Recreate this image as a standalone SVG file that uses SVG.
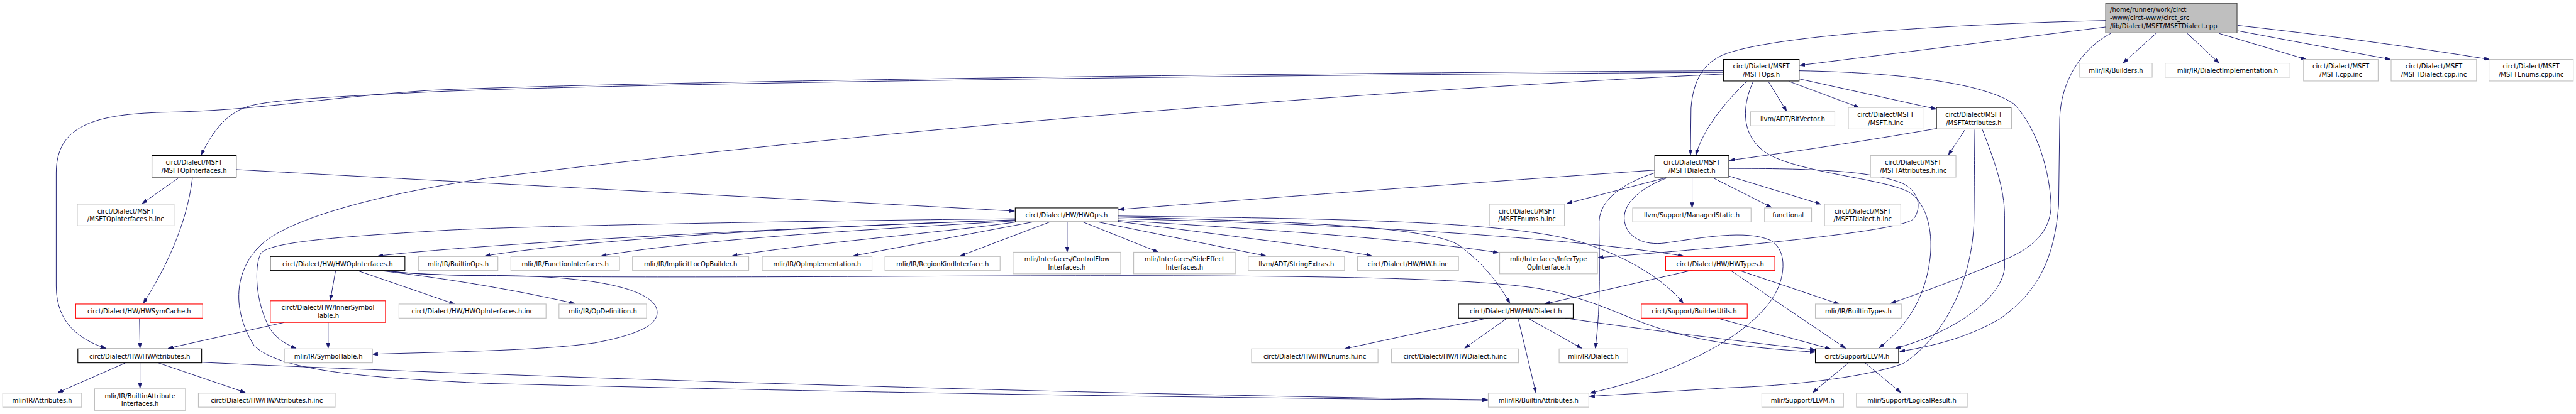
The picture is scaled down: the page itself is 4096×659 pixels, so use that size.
<svg xmlns="http://www.w3.org/2000/svg" width="4096" height="659" viewBox="0 0 4096 659">
<defs>
<marker id="ah" viewBox="0 0 10 7" refX="10" refY="3.5" markerWidth="10" markerHeight="7" markerUnits="userSpaceOnUse" orient="auto">
<path d="M0,0 L10,3.5 L0,7 z" fill="#191970" stroke="#191970" stroke-width="0.6"/>
</marker>
<style>
rect{fill:#ffffff;stroke-width:1.3}
.g{stroke:#bfbfbf}
.b{stroke:#000000}
.r{stroke:#ff0000}
.root{fill:#bfbfbf;stroke:#404040}
text{font-family:"DejaVu Sans Condensed","DejaVu Sans","Liberation Sans",sans-serif;font-size:13px;fill:#000000}
.c{text-anchor:middle}
#edges path{fill:none;stroke:#191970;stroke-width:1.1;marker-end:url(#ah)}
</style>
</defs>
<rect x="0" y="0" width="4096" height="659" style="fill:#ffffff;stroke:none"/>
<g transform="scale(0.8596)">
<g id="edges">
<path d="M3895,50 L3329,121"/>
<path d="M3895,38 C3600,45 3300,65 3200,97 C3150,112 3132,150 3128,200 L3127,287"/>
<path d="M3988,62 L3927,117"/>
<path d="M4046,62 L4105,117"/>
<path d="M4105,62 L4266,110"/>
<path d="M4139,57 L4422,110"/>
<path d="M4139,47 C4300,65 4450,85 4605,110"/>
<path d="M3906,61 C3850,90 3812,150 3810,220 L3808,380 C3800,480 3770,540 3700,590 C3640,625 3580,640 3514,651"/>
<path d="M3328,131 C3550,135 3680,160 3726,193 C3770,240 3792,320 3794,380 C3794,420 3770,455 3710,480 C3640,510 3560,540 3497,562"/>
<path d="M3271,151 L3305,206"/>
<path d="M3310,151 L3439,199"/>
<path d="M3328,146 L3582,202"/>
<path d="M3231,151 C3190,190 3150,240 3137,287"/>
<path d="M3243,151 C3225,190 3215,250 3270,285 C3330,320 3480,330 3530,355 C3570,380 3575,440 3570,480 C3560,560 3520,610 3476,644"/>
<path d="M3188,131 C2400,135 1200,150 800,167 C600,180 480,205 300,208 C180,212 104,230 104,320 L104,530 C104,600 150,630 196,645"/>
<path d="M3188,134 C2400,138 1200,153 800,170 C600,180 500,185 459,197 C420,210 395,240 372,287"/>
<path d="M3188,137 C2600,165 1700,230 900,330 C700,360 560,400 500,440 C440,480 420,560 470,640 C520,690 700,700 900,710 C1600,728 2300,737 2752,741"/>
<path d="M3582,238 C3400,270 3250,290 3199,297"/>
<path d="M3635,240 L3604,287"/>
<path d="M3653,240 C3652,300 3652,400 3651,420 C3645,520 3600,620 3521,673 C3450,700 3300,715 3200,718 L2940,734"/>
<path d="M3667,240 C3690,300 3708,350 3708,400 L3708,497 C3700,560 3600,620 3506,645"/>
<path d="M3061,315 C2700,340 2300,370 2069,388"/>
<path d="M3082,329 L2898,377"/>
<path d="M3061,320 C3000,340 2960,370 2958,410 C2958,480 2962,560 2951,645"/>
<path d="M3082,330 C3030,350 3000,380 3005,410 C3010,440 3040,455 3080,450 C3150,440 3230,425 3275,445 C3310,465 3300,520 3280,550 C3250,600 3150,680 2941,728"/>
<path d="M3130,329 L3130,385"/>
<path d="M3168,329 L3277,384"/>
<path d="M3198,326 L3368,378"/>
<path d="M3198,312 C3350,312 3460,315 3520,340 C3550,355 3555,385 3540,405 C3520,425 3300,450 2956,477"/>
<path d="M331,329 L263,377"/>
<path d="M356,329 C350,380 330,460 265,562"/>
<path d="M437,314 C900,340 1600,375 1877,391"/>
<path d="M1878,405 C1400,410 900,420 800,428 C600,440 495,450 482,470 C470,495 472,560 500,610 C515,630 530,638 548,645"/>
<path d="M1878,407 C1500,420 900,450 699,474"/>
<path d="M1878,408 C1600,415 1100,440 897,474"/>
<path d="M1878,409 C1700,420 1300,440 1112,474"/>
<path d="M1880,411 C1750,430 1500,450 1354,474"/>
<path d="M1911,411 L1578,474"/>
<path d="M1942,411 L1776,474"/>
<path d="M1974,411 L1974,467"/>
<path d="M2003,411 L2143,467"/>
<path d="M2031,411 L2342,474"/>
<path d="M2068,410 C2300,440 2480,462 2538,474"/>
<path d="M2068,408 C2400,428 2650,448 2772,468"/>
<path d="M2068,405 C2500,415 2900,440 3114,474"/>
<path d="M2068,402 C2400,410 2650,420 2700,455 C2740,485 2770,520 2793,562"/>
<path d="M2068,400 C2500,405 2800,410 2930,450 C3020,480 3080,520 3114,562"/>
<path d="M621,500 L611,556"/>
<path d="M658,500 L841,563"/>
<path d="M694,500 C760,508 900,525 1063,562"/>
<path d="M704,500 C760,508 820,510 900,510 C1100,510 1200,535 1214,570 C1225,600 1180,620 1100,635 C1000,650 800,652 689,656"/>
<path d="M710,500 C760,510 900,515 1600,512 C2300,508 2700,510 2850,535 C2950,555 3000,585 3060,605 C3150,635 3250,645 3358,652"/>
<path d="M3132,500 L2857,563"/>
<path d="M3215,500 L3402,563"/>
<path d="M3200,500 L3414,645"/>
<path d="M3176,589 L3386,646"/>
<path d="M2752,589 L2487,646"/>
<path d="M2788,589 L2709,645"/>
<path d="M2808,589 L2841,727"/>
<path d="M2826,589 L2926,645"/>
<path d="M2895,589 C3000,605 3200,630 3358,648"/>
<path d="M3419,672 L3353,727"/>
<path d="M3450,672 L3516,727"/>
<path d="M526,597 L311,645"/>
<path d="M607,597 L607,645"/>
<path d="M258,589 L259,645"/>
<path d="M232,672 L107,727"/>
<path d="M259,672 L259,719"/>
<path d="M293,672 L454,727"/>
<path d="M373,671 C1000,700 2000,730 2752,740"/>
</g>
<g id="root"><rect class="root" x="3895" y="6" width="243" height="55"/><text x="3903" y="22">/home/runner/work/circt</text><text x="3903" y="37">-www/circt-www/circt_src</text><text x="3903" y="52">/lib/Dialect/MSFT/MSFTDialect.cpp</text></g>
<g id="msftops"><rect class="b" x="3188" y="110" width="140" height="40"/><text class="c" x="3258" y="127">circt/Dialect/MSFT</text><text class="c" x="3258" y="142">/MSFTOps.h</text></g>
<g id="builders"><rect class="g" x="3847" y="117" width="134" height="26"/><text class="c" x="3914" y="135">mlir/IR/Builders.h</text></g>
<g id="dialimpl"><rect class="g" x="4005" y="117" width="231" height="26"/><text class="c" x="4120.5" y="135">mlir/IR/DialectImplementation.h</text></g>
<g id="msftcppinc"><rect class="g" x="4261" y="110" width="138" height="40"/><text class="c" x="4330" y="127">circt/Dialect/MSFT</text><text class="c" x="4330" y="142">/MSFT.cpp.inc</text></g>
<g id="msftdialcppinc"><rect class="g" x="4423" y="110" width="158" height="40"/><text class="c" x="4502" y="127">circt/Dialect/MSFT</text><text class="c" x="4502" y="142">/MSFTDialect.cpp.inc</text></g>
<g id="msftenumscppinc"><rect class="g" x="4604" y="110" width="156" height="40"/><text class="c" x="4682" y="127">circt/Dialect/MSFT</text><text class="c" x="4682" y="142">/MSFTEnums.cpp.inc</text></g>
<g id="bitvector"><rect class="g" x="3238" y="207" width="156" height="26"/><text class="c" x="3316" y="225">llvm/ADT/BitVector.h</text></g>
<g id="msfthinc"><rect class="g" x="3419" y="199" width="138" height="40"/><text class="c" x="3488" y="216">circt/Dialect/MSFT</text><text class="c" x="3488" y="231">/MSFT.h.inc</text></g>
<g id="msftattr"><rect class="b" x="3582" y="199" width="138" height="40"/><text class="c" x="3651" y="216">circt/Dialect/MSFT</text><text class="c" x="3651" y="231">/MSFTAttributes.h</text></g>
<g id="msftattrinc"><rect class="g" x="3460" y="288" width="158" height="40"/><text class="c" x="3539" y="305">circt/Dialect/MSFT</text><text class="c" x="3539" y="320">/MSFTAttributes.h.inc</text></g>
<g id="msftdialect"><rect class="b" x="3061" y="288" width="137" height="40"/><text class="c" x="3129.5" y="305">circt/Dialect/MSFT</text><text class="c" x="3129.5" y="320">/MSFTDialect.h</text></g>
<g id="msftopif"><rect class="b" x="281" y="288" width="156" height="40"/><text class="c" x="359" y="305">circt/Dialect/MSFT</text><text class="c" x="359" y="320">/MSFTOpInterfaces.h</text></g>
<g id="msftopifinc"><rect class="g" x="143" y="378" width="179" height="40"/><text class="c" x="232.5" y="395">circt/Dialect/MSFT</text><text class="c" x="232.5" y="410">/MSFTOpInterfaces.h.inc</text></g>
<g id="hwops"><rect class="b" x="1878" y="385" width="190" height="26"/><text class="c" x="1973" y="403">circt/Dialect/HW/HWOps.h</text></g>
<g id="msftenumshinc"><rect class="g" x="2755" y="378" width="139" height="40"/><text class="c" x="2824.5" y="395">circt/Dialect/MSFT</text><text class="c" x="2824.5" y="410">/MSFTEnums.h.inc</text></g>
<g id="managed"><rect class="g" x="3020" y="385" width="219" height="26"/><text class="c" x="3129.5" y="403">llvm/Support/ManagedStatic.h</text></g>
<g id="functional"><rect class="g" x="3264" y="385" width="87" height="26"/><text class="c" x="3307.5" y="403">functional</text></g>
<g id="msftdialhinc"><rect class="g" x="3375" y="378" width="141" height="40"/><text class="c" x="3445.5" y="395">circt/Dialect/MSFT</text><text class="c" x="3445.5" y="410">/MSFTDialect.h.inc</text></g>
<g id="hwopif"><rect class="b" x="500" y="475" width="249" height="26"/><text class="c" x="624.5" y="493">circt/Dialect/HW/HWOpInterfaces.h</text></g>
<g id="builtinops"><rect class="g" x="774" y="475" width="147" height="26"/><text class="c" x="847.5" y="493">mlir/IR/BuiltinOps.h</text></g>
<g id="funcif"><rect class="g" x="945" y="475" width="201" height="26"/><text class="c" x="1045.5" y="493">mlir/IR/FunctionInterfaces.h</text></g>
<g id="implicit"><rect class="g" x="1170" y="475" width="215" height="26"/><text class="c" x="1277.5" y="493">mlir/IR/ImplicitLocOpBuilder.h</text></g>
<g id="opimpl"><rect class="g" x="1410" y="475" width="203" height="26"/><text class="c" x="1511.5" y="493">mlir/IR/OpImplementation.h</text></g>
<g id="regionkind"><rect class="g" x="1637" y="475" width="213" height="26"/><text class="c" x="1743.5" y="493">mlir/IR/RegionKindInterface.h</text></g>
<g id="controlflow"><rect class="g" x="1874" y="467" width="199" height="40"/><text class="c" x="1973.5" y="484">mlir/Interfaces/ControlFlow</text><text class="c" x="1973.5" y="499">Interfaces.h</text></g>
<g id="sideeffect"><rect class="g" x="2097" y="467" width="188" height="40"/><text class="c" x="2191" y="484">mlir/Interfaces/SideEffect</text><text class="c" x="2191" y="499">Interfaces.h</text></g>
<g id="stringextras"><rect class="g" x="2309" y="475" width="178" height="26"/><text class="c" x="2398" y="493">llvm/ADT/StringExtras.h</text></g>
<g id="hwhinc"><rect class="g" x="2511" y="475" width="187" height="26"/><text class="c" x="2604.5" y="493">circt/Dialect/HW/HW.h.inc</text></g>
<g id="infertype"><rect class="g" x="2774" y="467" width="181" height="40"/><text class="c" x="2864.5" y="484">mlir/Interfaces/InferType</text><text class="c" x="2864.5" y="499">OpInterface.h</text></g>
<g id="hwtypes"><rect class="r" x="3081" y="475" width="202" height="26"/><text class="c" x="3182" y="493">circt/Dialect/HW/HWTypes.h</text></g>
<g id="hwsymcache"><rect class="r" x="140" y="563" width="235" height="26"/><text class="c" x="257.5" y="581">circt/Dialect/HW/HWSymCache.h</text></g>
<g id="innersym"><rect class="r" x="500" y="557" width="213" height="40"/><text class="c" x="606.5" y="574">circt/Dialect/HW/InnerSymbol</text><text class="c" x="606.5" y="589">Table.h</text></g>
<g id="hwopifinc"><rect class="g" x="738" y="563" width="272" height="26"/><text class="c" x="874" y="581">circt/Dialect/HW/HWOpInterfaces.h.inc</text></g>
<g id="opdef"><rect class="g" x="1034" y="563" width="162" height="26"/><text class="c" x="1115" y="581">mlir/IR/OpDefinition.h</text></g>
<g id="hwdialect"><rect class="b" x="2698" y="563" width="212" height="26"/><text class="c" x="2804" y="581">circt/Dialect/HW/HWDialect.h</text></g>
<g id="builderutils"><rect class="r" x="3036" y="563" width="196" height="26"/><text class="c" x="3134" y="581">circt/Support/BuilderUtils.h</text></g>
<g id="builtintypes"><rect class="g" x="3358" y="563" width="159" height="26"/><text class="c" x="3437.5" y="581">mlir/IR/BuiltinTypes.h</text></g>
<g id="hwattr"><rect class="b" x="144" y="646" width="229" height="26"/><text class="c" x="258.5" y="664">circt/Dialect/HW/HWAttributes.h</text></g>
<g id="symtable"><rect class="g" x="526" y="646" width="163" height="26"/><text class="c" x="607.5" y="664">mlir/IR/SymbolTable.h</text></g>
<g id="hwenumsinc"><rect class="g" x="2315" y="646" width="234" height="26"/><text class="c" x="2432" y="664">circt/Dialect/HW/HWEnums.h.inc</text></g>
<g id="hwdialinc"><rect class="g" x="2574" y="646" width="235" height="26"/><text class="c" x="2691.5" y="664">circt/Dialect/HW/HWDialect.h.inc</text></g>
<g id="dialect"><rect class="g" x="2884" y="646" width="127" height="26"/><text class="c" x="2947.5" y="664">mlir/IR/Dialect.h</text></g>
<g id="llvm"><rect class="b" x="3358" y="646" width="154" height="26"/><text class="c" x="3435" y="664">circt/Support/LLVM.h</text></g>
<g id="attributes"><rect class="g" x="5" y="728" width="146" height="26"/><text class="c" x="78" y="746">mlir/IR/Attributes.h</text></g>
<g id="builtinattrif"><rect class="g" x="175" y="720" width="168" height="40"/><text class="c" x="259" y="737">mlir/IR/BuiltinAttribute</text><text class="c" x="259" y="752">Interfaces.h</text></g>
<g id="hwattrinc"><rect class="g" x="367" y="728" width="253" height="26"/><text class="c" x="493.5" y="746">circt/Dialect/HW/HWAttributes.h.inc</text></g>
<g id="builtinattr"><rect class="g" x="2753" y="728" width="186" height="26"/><text class="c" x="2846" y="746">mlir/IR/BuiltinAttributes.h</text></g>
<g id="mlirllvm"><rect class="g" x="3259" y="728" width="151" height="26"/><text class="c" x="3334.5" y="746">mlir/Support/LLVM.h</text></g>
<g id="logical"><rect class="g" x="3434" y="728" width="205" height="26"/><text class="c" x="3536.5" y="746">mlir/Support/LogicalResult.h</text></g>
</g>
</svg>
